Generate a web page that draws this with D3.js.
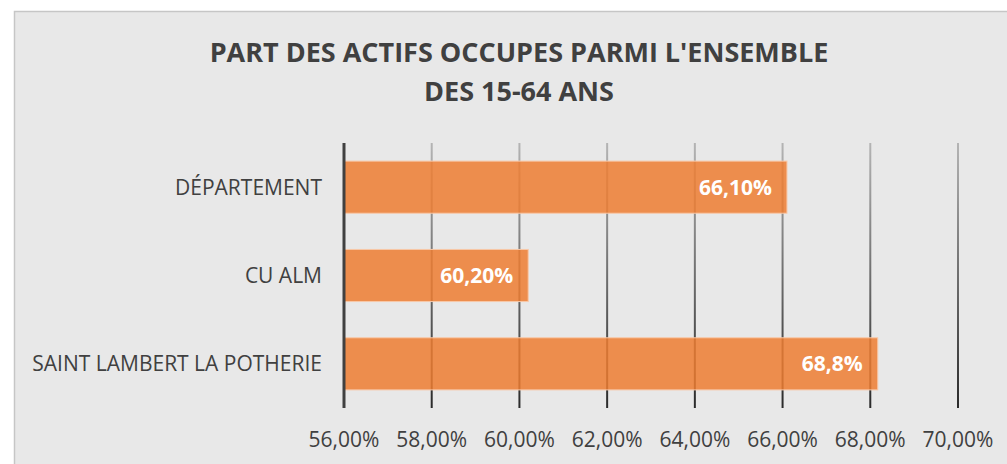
<!DOCTYPE html>
<html lang="fr">
<head>
    <meta charset="UTF-8">
    <title>Part des actifs occupés</title>
    <script src="https://d3js.org/d3.v7.min.js"></script>
    <style>
        body {
            margin: 0;
            padding: 0;
            background: #ffffff;
            font-family: "Open Sans", Arial, sans-serif;
        }
    </style>
</head>
<body>
    <svg id="chart" width="1007" height="464"></svg>

    <script>
        const categories = ["DÉPARTEMENT", "CU ALM", "SAINT LAMBERT LA POTHERIE"];
        const values = [66.10, 60.20, 68.17];
        const valueLabels = ["66,10%", "60,20%", "68,8%"];
        const tickValues = [56, 58, 60, 62, 64, 66, 68, 70];
        const titleLines = ["PART DES ACTIFS OCCUPES PARMI L'ENSEMBLE", "DES 15-64 ANS"];

        const width = 1007;
        const height = 464;
        const margin = { top: 143, right: 49, bottom: 56, left: 344 };

        const svg = d3.select("#chart");

        // chart area, cut off on the right and bottom like the original
        svg.append("rect")
            .attr("x", 14.5)
            .attr("y", 11.5)
            .attr("width", width)
            .attr("height", height)
            .attr("fill", "#e8e8e8")
            .attr("stroke", "#c6c6c6")
            .attr("stroke-width", 1.5);

        const defs = svg.append("defs");
        const grad = defs.append("linearGradient")
            .attr("id", "gridGrad")
            .attr("gradientUnits", "userSpaceOnUse")
            .attr("x1", 0).attr("y1", margin.top)
            .attr("x2", 0).attr("y2", height - margin.bottom);
        grad.append("stop").attr("offset", "0%").attr("stop-color", "#b4b4b4");
        grad.append("stop").attr("offset", "100%").attr("stop-color", "#2a2a2a");

        svg.selectAll("text.title")
            .data(titleLines)
            .enter()
            .append("text")
            .attr("class", "title")
            .attr("x", 519)
            .attr("y", (d, i) => 62 + i * 39)
            .attr("text-anchor", "middle")
            .attr("font-size", "27px")
            .attr("font-weight", "bold")
            .attr("fill", "#404040")
            .text(d => d);

        const x = d3.scaleLinear()
            .domain([56, 70])
            .range([margin.left, width - margin.right]);

        const y = d3.scaleBand()
            .domain(categories)
            .range([margin.top, height - margin.bottom])
            .paddingInner(0.41)
            .paddingOuter(0.205);

        // gridlines
        svg.append("g")
            .selectAll("line")
            .data(tickValues.slice(1))
            .enter()
            .append("line")
            .attr("x1", d => x(d))
            .attr("x2", d => x(d))
            .attr("y1", margin.top)
            .attr("y2", height - margin.bottom)
            .attr("stroke", "url(#gridGrad)")
            .attr("stroke-width", 2);

        // bars
        svg.append("g")
            .selectAll("rect")
            .data(values)
            .enter()
            .append("rect")
            .attr("x", x(56))
            .attr("y", (d, i) => y(categories[i]))
            .attr("width", d => x(d) - x(56))
            .attr("height", y.bandwidth())
            .attr("fill", "#ed7d31")
            .attr("fill-opacity", 0.85)
            .attr("stroke", "#f8c8a8")
            .attr("stroke-width", 1);

        // value labels
        svg.append("g")
            .selectAll("text")
            .data(values)
            .enter()
            .append("text")
            .attr("x", d => x(d) - 15)
            .attr("y", (d, i) => y(categories[i]) + y.bandwidth() / 2)
            .attr("dy", "0.36em")
            .attr("text-anchor", "end")
            .attr("font-size", "21px")
            .attr("font-weight", "bold")
            .attr("fill", "#ffffff")
            .text((d, i) => valueLabels[i]);

        // category axis line
        svg.append("line")
            .attr("x1", x(56))
            .attr("x2", x(56))
            .attr("y1", margin.top)
            .attr("y2", height - margin.bottom)
            .attr("stroke", "#404040")
            .attr("stroke-width", 3);

        // category labels
        svg.append("g")
            .selectAll("text")
            .data(categories)
            .enter()
            .append("text")
            .attr("x", 322)
            .attr("y", d => y(d) + y.bandwidth() / 2)
            .attr("dy", "0.36em")
            .attr("text-anchor", "end")
            .attr("font-size", "21px")
            .attr("fill", "#404040")
            .text(d => d);

        // x tick labels
        const fmt = v => d3.format(".2f")(v).replace(".", ",") + "%";
        svg.append("g")
            .selectAll("text")
            .data(tickValues)
            .enter()
            .append("text")
            .attr("x", d => x(d))
            .attr("y", 447)
            .attr("text-anchor", "middle")
            .attr("font-size", "21px")
            .attr("fill", "#404040")
            .text(d => fmt(d));
    </script>
</body>
</html>
